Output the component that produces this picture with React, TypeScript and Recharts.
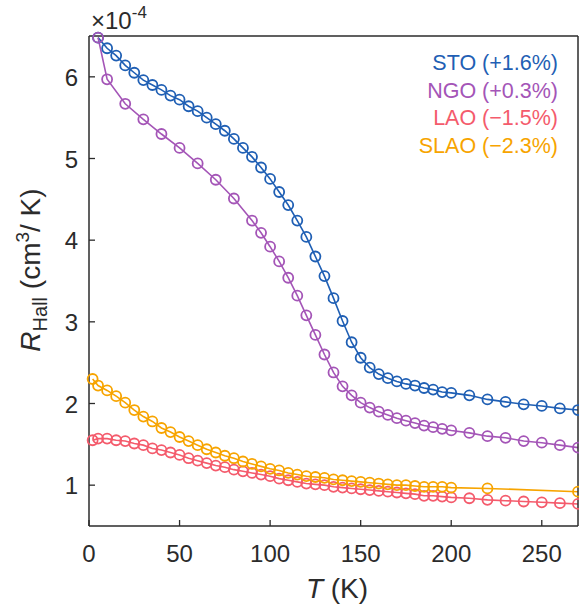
import { LineChart, Line, XAxis, YAxis } from 'recharts';

// temperatures (K) and Hall coefficients (1e-4 cm^3/K) per substrate
const stoT = [5, 10, 15, 20, 25, 30, 35, 40, 45, 50, 55, 60, 65, 70, 75, 80, 85, 90, 95, 100, 105, 110, 115, 120, 125, 130, 135, 140, 145, 150, 155, 160, 165, 170, 175, 180, 185, 190, 195, 200, 210, 220, 230, 240, 250, 260, 270];
const stoR = [6.48, 6.35, 6.26, 6.14, 6.05, 5.96, 5.9, 5.84, 5.77, 5.72, 5.64, 5.58, 5.5, 5.42, 5.34, 5.24, 5.13, 5.02, 4.89, 4.75, 4.59, 4.43, 4.24, 4.04, 3.8, 3.56, 3.29, 3.01, 2.75, 2.56, 2.44, 2.36, 2.31, 2.27, 2.24, 2.22, 2.19, 2.17, 2.14, 2.13, 2.1, 2.05, 2.02, 1.99, 1.97, 1.94, 1.92];

const ngoT = [5, 10, 20, 30, 40, 50, 60, 70, 80, 90, 95, 100, 105, 110, 115, 120, 125, 130, 135, 140, 145, 150, 155, 160, 165, 170, 175, 180, 185, 190, 195, 200, 210, 220, 230, 240, 250, 260, 270];
const ngoR = [6.48, 5.97, 5.67, 5.48, 5.3, 5.13, 4.94, 4.74, 4.51, 4.24, 4.09, 3.92, 3.74, 3.54, 3.32, 3.08, 2.84, 2.6, 2.38, 2.21, 2.1, 2.01, 1.95, 1.9, 1.86, 1.82, 1.79, 1.76, 1.73, 1.71, 1.69, 1.67, 1.64, 1.6, 1.58, 1.54, 1.52, 1.49, 1.46];

const laoT = [2, 5, 10, 15, 20, 25, 30, 35, 40, 45, 50, 55, 60, 65, 70, 75, 80, 85, 90, 95, 100, 105, 110, 115, 120, 125, 130, 135, 140, 145, 150, 155, 160, 165, 170, 175, 180, 185, 190, 195, 200, 210, 220, 230, 240, 250, 260, 270];
const laoR = [1.55, 1.57, 1.57, 1.55, 1.54, 1.51, 1.49, 1.45, 1.43, 1.4, 1.37, 1.33, 1.3, 1.27, 1.24, 1.22, 1.19, 1.17, 1.15, 1.13, 1.11, 1.08, 1.06, 1.04, 1.02, 1.01, 1.0, 0.98, 0.97, 0.96, 0.95, 0.94, 0.93, 0.92, 0.91, 0.9, 0.89, 0.87, 0.87, 0.86, 0.85, 0.84, 0.82, 0.81, 0.8, 0.79, 0.78, 0.77];

const slaoT = [2, 5, 10, 15, 20, 25, 30, 35, 40, 45, 50, 55, 60, 65, 70, 75, 80, 85, 90, 95, 100, 105, 110, 115, 120, 125, 130, 135, 140, 145, 150, 155, 160, 165, 170, 175, 180, 185, 190, 195, 200, 220, 270];
const slaoR = [2.3, 2.22, 2.16, 2.09, 2.01, 1.92, 1.84, 1.78, 1.7, 1.65, 1.59, 1.54, 1.49, 1.44, 1.4, 1.36, 1.33, 1.29, 1.26, 1.23, 1.2, 1.18, 1.15, 1.13, 1.11, 1.1, 1.09, 1.07, 1.06, 1.05, 1.04, 1.03, 1.02, 1.01, 1.0, 1.0, 0.99, 0.98, 0.98, 0.98, 0.97, 0.96, 0.92];

const seriesNames = ['STO (+1.6%)', 'NGO (+0.3%)', 'LAO (\u22121.5%)', 'SLAO (\u22122.3%)'];
const colors = ['#1f5fb4', '#a455b7', '#f45b6c', '#f7a400'];

const xTicks = [0, 50, 100, 150, 200, 250];
const yTicks = [1, 2, 3, 4, 5, 6];

const toRows = (t: number[], r: number[]) => t.map((v, i) => ({ t: v, r: r[i] }));
const series = [toRows(stoT, stoR), toRows(ngoT, ngoR), toRows(laoT, laoR), toRows(slaoT, slaoR)];

const FONT = '"Liberation Sans", Arial, Helvetica, sans-serif';
const AX = '#2b2b2b';

const BottomTick = (p: any) => (
  <g>
    <line x1={p.x} x2={p.x} y1={p.y} y2={p.y - 6} stroke={AX} strokeWidth={1.3} />
    <text x={p.x} y={p.y + 36} textAnchor="middle" fontSize={24} fill={AX} fontFamily={FONT}>
      {p.payload.value}
    </text>
  </g>
);

const LeftTick = (p: any) => (
  <g>
    <line x1={p.x} x2={p.x + 6} y1={p.y} y2={p.y} stroke={AX} strokeWidth={1.3} />
    <text x={p.x - 11} y={p.y + 9} textAnchor="end" fontSize={24} fill={AX} fontFamily={FONT}>
      {p.payload.value}
    </text>
  </g>
);

const TopTick = (p: any) => (
  <line x1={p.x} x2={p.x} y1={p.y} y2={p.y + 6} stroke={AX} strokeWidth={1.3} />
);

const RightTick = (p: any) => (
  <line x1={p.x} x2={p.x - 6} y1={p.y} y2={p.y} stroke={AX} strokeWidth={1.3} />
);

export default function App() {
  return (
    <div style={{ position: 'absolute', left: 0, top: 0, width: 579, height: 611, background: '#fff' }}>
      <LineChart width={579} height={611} margin={{ top: 35, right: 0, bottom: 84, left: 29 }}>
        <XAxis
          dataKey="t"
          type="number"
          domain={[0, 270]}
          ticks={xTicks}
          interval={0}
          height={1}
          tickSize={0}
          tickMargin={0}
          tickLine={false}
          tick={BottomTick}
          axisLine={{ stroke: AX, strokeWidth: 1.5 }}
        />
        <XAxis
          xAxisId="top"
          orientation="top"
          type="number"
          domain={[0, 270]}
          ticks={xTicks}
          interval={0}
          height={1}
          tickSize={0}
          tickMargin={0}
          tickLine={false}
          tick={TopTick}
          axisLine={{ stroke: AX, strokeWidth: 1.5 }}
        />
        <YAxis
          type="number"
          domain={[0.5, 6.5]}
          ticks={yTicks}
          interval={0}
          width={60}
          tickSize={0}
          tickMargin={0}
          tickLine={false}
          tick={LeftTick}
          axisLine={{ stroke: AX, strokeWidth: 1.5 }}
        />
        <YAxis
          yAxisId="right"
          orientation="right"
          type="number"
          domain={[0.5, 6.5]}
          ticks={yTicks}
          interval={0}
          width={1}
          tickSize={0}
          tickMargin={0}
          tickLine={false}
          tick={RightTick}
          axisLine={{ stroke: AX, strokeWidth: 1.5 }}
        />
        {series.map((d, i) => (
          <Line
            key={seriesNames[i]}
            data={d}
            dataKey="r"
            type="linear"
            stroke={colors[i]}
            strokeWidth={1.6}
            dot={{ r: 5, stroke: colors[i], strokeWidth: 1.8, fill: 'none' }}
            isAnimationActive={false}
          />
        ))}
      </LineChart>
      <svg
        width={579}
        height={611}
        style={{ position: 'absolute', left: 0, top: 0, pointerEvents: 'none' }}
        fontFamily={FONT}
      >
        <text x={91} y={29} fontSize={24} fill={AX}>
          {'\u00d710'}
          <tspan fontSize={17} dy={-11}>-4</tspan>
        </text>
        {seriesNames.map((n, i) => (
          <text key={n} x={558} y={70 + i * 27.7} textAnchor="end" fontSize={21.5} fill={colors[i]}>
            {n}
          </text>
        ))}
        <text x={337} y={598} textAnchor="middle" fontSize={28} fill={AX}>
          <tspan fontStyle="italic">T</tspan> (K)
        </text>
        <text transform="translate(40,270) rotate(-90)" textAnchor="middle" fontSize={28} fill={AX}>
          <tspan fontStyle="italic">R</tspan>
          <tspan fontSize={20} dy={7}>Hall</tspan>
          <tspan dy={-7}> (cm</tspan>
          <tspan fontSize={19} dy={-11}>3</tspan>
          <tspan dy={11}>/ K)</tspan>
        </text>
      </svg>
    </div>
  );
}
